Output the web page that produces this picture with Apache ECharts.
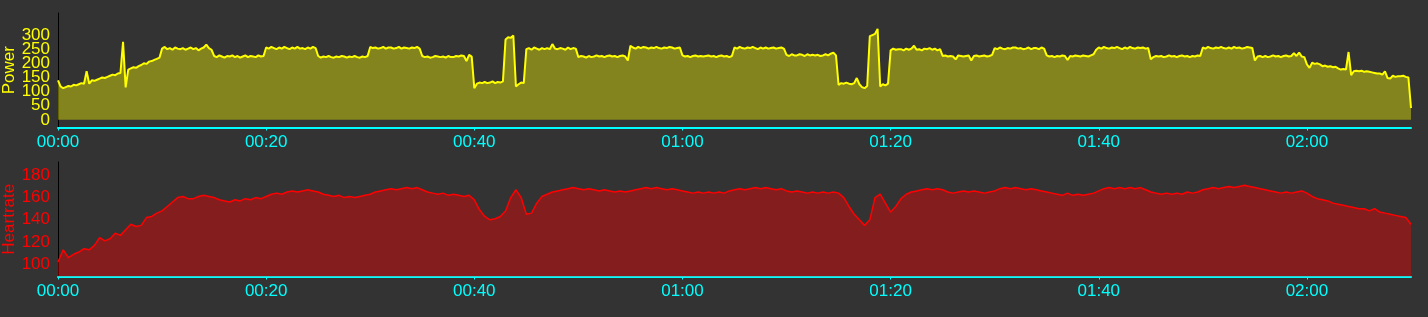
<!DOCTYPE html>
<html>
<head>
<meta charset="utf-8">
<script src="https://cdn.jsdelivr.net/npm/echarts@6/dist/echarts.min.js"></script>
<style>
html,body{margin:0;padding:0;background:#333333;}
#chart{width:1428px;height:317px;}
</style>
</head>
<body>
<div id="chart"></div>
<script>
// Sample spacing (minutes) of the recorded series
const POWER_STEP_MIN = 0.25;
const HR_STEP_MIN = 0.5;

// X axis tick positions (minutes) and range
const timeTicks = [0, 20, 40, 60, 80, 100, 120];
const timeMax = 130;

// Power (W), one row per minute (4 samples each)
const powerValues = [
  140,118,112,116, 120,118,124,122, 126,130,128,172, 128,140,138,142, 146,150,148,152,
  156,160,158,164, 166,276,115,178, 182,186,184,190, 194,200,198,206, 208,212,216,220,
  252,258,250,254, 248,256,252,250, 254,248,252,256, 250,254,246,252, 256,266,254,248,
  226,222,228,224, 220,226,224,228, 222,226,220,224, 228,222,226,224, 222,228,224,226,
  256,252,258,254, 250,256,252,258, 254,250,256,252, 258,252,254,250, 256,252,258,254,
  226,220,224,222, 226,222,220,224, 222,226,224,220, 224,222,226,222, 220,224,222,226,
  258,254,256,252, 254,258,252,256, 256,252,254,258, 252,256,254,252, 256,254,258,252,
  226,222,224,220, 222,226,224,222, 224,220,226,222, 222,226,224,228, 226,208,230,224,
  112,128,132,130, 134,130,132,136, 130,134,132,136, 284,292,290,298, 118,126,132,130,
  250,254,248,256, 252,248,254,250, 254,250,268,252, 250,254,252,248, 256,250,254,252,
  222,226,224,220, 226,222,224,228, 224,226,222,226, 228,224,226,222, 226,228,224,210,
  262,256,252,258, 254,258,256,252, 256,254,258,254, 252,256,254,258, 256,252,254,256,
  228,224,226,222, 226,228,224,226, 224,226,228,224, 226,222,226,228, 224,226,222,226,
  256,252,258,254, 252,256,254,258, 254,250,256,252, 256,252,254,256, 252,254,256,252,
  230,226,232,228, 228,232,230,226, 232,228,230,228, 230,226,228,232, 228,234,238,228,
  124,130,128,132, 128,126,130,148, 126,116,112,120, 296,300,304,322, 118,126,122,128,
  246,252,248,250, 250,246,252,248, 252,262,248,250, 246,252,250,254, 248,252,246,250,
  226,228,224,226, 224,214,228,226, 224,226,228,210, 226,228,224,226, 228,224,226,230,
  254,250,256,252, 250,254,252,256, 256,252,254,250, 252,256,250,254, 254,250,256,252,
  228,224,226,222, 226,224,228,226, 212,226,224,228, 226,224,228,226, 224,228,232,248,
  256,252,258,254, 252,256,254,258, 254,250,256,252, 258,254,252,256, 254,256,252,254,
  214,222,226,224, 226,222,224,228, 224,226,222,226, 228,224,226,222, 226,224,228,226,
  256,252,258,254, 252,256,254,258, 254,252,256,252, 258,254,256,252, 254,258,256,254,
  210,224,226,222, 226,222,224,228, 224,226,222,226, 228,224,226,236, 226,238,224,222,
  196,184,202,198, 200,196,190,192, 188,190,186,188, 182,178,180,178, 240,158,172,174,
  172,174,170,172, 170,168,166,164, 164,160,172,148, 146,156,152,154, 154,156,152,150,
  42
];

// Heart rate (bpm), one row per 5 minutes (10 samples each)
const hrValues = [
  102,113,106,109,111,114,113,117,124,121,
  123,128,126,131,136,134,135,142,143,146,
  148,152,156,160,161,159,159,161,162,161,
  160,158,157,156,158,157,159,158,160,159,
  161,163,164,163,165,166,165,166,167,166,
  165,163,162,161,162,160,161,160,161,162,
  163,165,166,167,168,167,168,169,168,169,
  167,165,164,163,164,162,163,162,161,162,
  158,149,143,140,141,143,148,160,167,160,
  145,146,155,161,163,165,166,167,168,169,
  168,167,168,167,166,167,166,165,166,165,
  166,167,168,169,168,169,168,167,168,167,
  166,165,164,165,164,165,164,165,164,166,
  167,168,167,168,169,168,169,168,167,168,
  166,165,166,165,164,165,164,165,164,165,
  164,160,152,145,140,135,140,160,163,155,
  147,152,159,163,165,166,167,168,167,168,
  167,165,164,165,166,165,166,165,164,165,
  166,168,169,168,169,168,167,168,167,166,
  165,164,163,162,164,162,163,162,163,164,
  166,168,169,168,169,168,169,168,169,167,
  165,164,163,164,163,164,163,165,164,165,
  167,168,169,168,169,170,169,170,171,170,
  169,168,167,166,165,164,165,164,165,166,
  164,161,159,158,157,155,154,153,152,151,
  150,150,148,150,147,146,145,144,143,142,
  136
];

// Y axis labels (power labels split in two sets so none are dropped for overlap)
const powerTicksA = [0, 100, 200, 300];
const powerTicksB = [50, 150, 250];
const hrTicks = [100, 120, 140, 160, 180];

const powerData = powerValues.map((v, i) => [i * POWER_STEP_MIN, v]);
const hrData = hrValues.map((v, i) => [i * HR_STEP_MIN, v]);

const FONT = '"Liberation Sans", Arial, sans-serif';
const CYAN = '#00ffff';
const POWER_MIN = -27, POWER_MAX = 378;
const HR_MIN = 89, HR_MAX = 192;

function fmtTime(v) {
  const h = Math.floor(v / 60), m = Math.round(v % 60);
  return String(h).padStart(2, '0') + ':' + String(m).padStart(2, '0');
}

function xAxis(gridIndex) {
  return {
    type: 'value', gridIndex, min: 0, max: timeMax, position: 'bottom',
    axisLine: { show: true, onZero: false, lineStyle: { color: CYAN, width: 2 } },
    axisTick: { show: true, length: 3, customValues: timeTicks, lineStyle: { color: CYAN, width: 1 } },
    axisLabel: { customValues: timeTicks, color: CYAN, fontSize: 17, fontFamily: FONT, margin: 6,
      showMinLabel: true, showMaxLabel: true, hideOverlap: false,
      formatter: v => (v % 20 === 0 ? fmtTime(v) : '') },
    splitLine: { show: false }
  };
}

function yAxis(gridIndex, name, color, min, max, ticks, showLine) {
  return {
    type: 'value', gridIndex, min, max, name, position: 'left', offset: 0,
    nameLocation: 'middle', nameGap: 40, nameMoveOverlap: false,
    nameTextStyle: { color, fontSize: 17, fontFamily: FONT },
    axisLine: { show: showLine, onZero: false, lineStyle: { color: '#000000', width: 1 } },
    axisTick: { show: false },
    axisLabel: { customValues: ticks, color, fontSize: 17, fontFamily: FONT, margin: 8,
      showMinLabel: true, showMaxLabel: true, hideOverlap: false },
    splitLine: { show: false }
  };
}

const chart = echarts.init(document.getElementById('chart'), null, { renderer: 'canvas' });
chart.setOption({
  backgroundColor: '#333333',
  animation: false,
  grid: [
    { left: 58, right: 17, top: 13, height: 114.5, containLabel: false, outerBoundsMode: 'none' },
    { left: 58, right: 17, top: 162, height: 114.5, containLabel: false, outerBoundsMode: 'none' }
  ],
  xAxis: [xAxis(0), xAxis(1)],
  yAxis: [
    yAxis(0, 'Power', '#ffff00', POWER_MIN, POWER_MAX, powerTicksA, true),
    yAxis(1, 'Heartrate', '#ff0000', HR_MIN, HR_MAX, hrTicks, true),
    yAxis(0, '', '#ffff00', POWER_MIN, POWER_MAX, powerTicksB, false)
  ],
  series: [
    {
      type: 'line', xAxisIndex: 0, yAxisIndex: 0, data: powerData,
      showSymbol: false, symbol: 'none',
      lineStyle: { color: '#ffff00', width: 2 },
      itemStyle: { color: '#ffff00' },
      areaStyle: { color: '#ffff00', opacity: 0.4 }
    },
    {
      type: 'line', xAxisIndex: 1, yAxisIndex: 1, data: hrData,
      showSymbol: false, symbol: 'none',
      lineStyle: { color: '#ff0000', width: 1.5 },
      itemStyle: { color: '#ff0000' },
      areaStyle: { color: '#ff0000', opacity: 0.4 }
    }
  ]
});
</script>
</body>
</html>
